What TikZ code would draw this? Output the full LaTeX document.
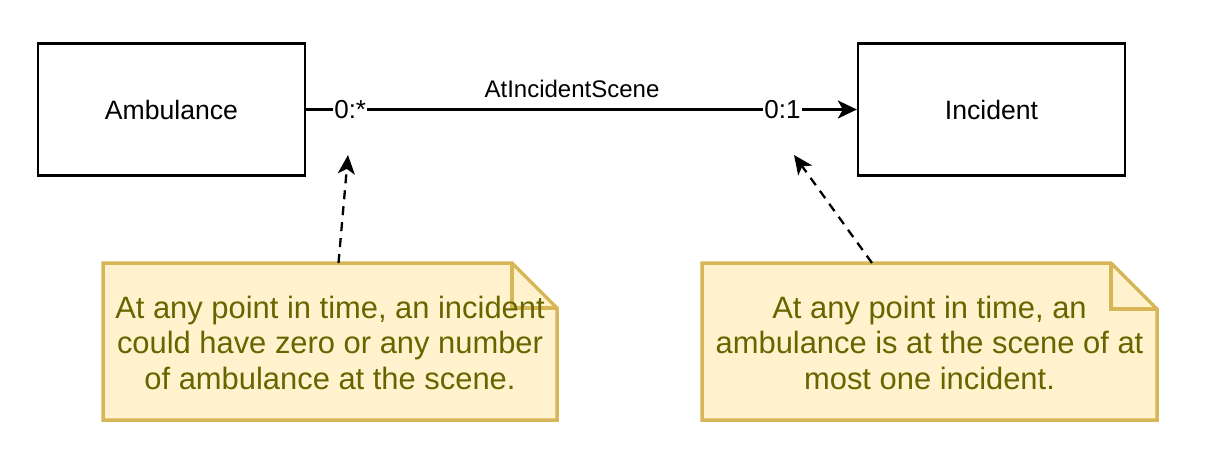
\documentclass[tikz,border=0pt]{standalone}
\usepackage{fontspec}
\setmainfont{Liberation Sans}
\usetikzlibrary{arrows.meta}
\definecolor{notefill}{HTML}{FFF2CC}
\definecolor{notedraw}{HTML}{D6B656}
\definecolor{notetext}{HTML}{666600}
\tikzset{
  classbox/.style={draw=black, line width=2.3pt, fill=white, minimum width=267pt, minimum height=132pt, inner sep=0pt, font=\fontsize{26.6}{30}\selectfont},
  notebox/.style={minimum width=454pt, minimum height=157pt, inner sep=0pt, align=center, text=notetext, font=\fontsize{30.9}{35.5}\selectfont},
  noteshape/.style={draw=notedraw, fill=notefill, line width=3.5pt, line join=miter},
  assoc/.style={line width=2.3pt, -{Stealth[length=19pt, width=18pt, inset=5pt]}},
  dashedarrow/.style={line width=2.3pt, dash pattern=on 9pt off 7pt, -{Stealth[length=19pt, width=17pt, inset=5pt]}},
  elabel/.style={fill=white, inner sep=1pt, font=\fontsize{24}{28}\selectfont},
  mlabel/.style={fill=white, inner sep=1pt, font=\fontsize{26}{30}\selectfont},
}
\begin{document}
\begin{tikzpicture}[x=1pt, y=-1pt]
\useasboundingbox (0,0) rectangle (1206,466);
% class boxes
\node[classbox] (amb) at (171.5,109.5) {Ambulance};
\node[classbox] (inc) at (991.5,109.5) {Incident};
% association
\draw[assoc] (amb.east) -- (inc.west)
  node[pos=0.08, mlabel] (m1) {0:*}
  node[pos=0.865, mlabel] (m2) {0:1};
\node[elabel] (lab) at (572,89) {AtIncidentScene};
% note 1
\draw[noteshape] (103,263) -- (512,263) -- (557,308) -- (557,420) -- (103,420) -- cycle;
\draw[noteshape, fill=none] (512,263) -- (512,308) -- (557,308);
\node[notebox] (n1) at (330,342.5) {At any point in time, an incident\\could have zero or any number\\of ambulance at the scene.};
% note 2
\draw[noteshape] (702,263) -- (1111,263) -- (1157,309) -- (1157,420) -- (702,420) -- cycle;
\draw[noteshape, fill=none] (1111,263) -- (1111,309) -- (1157,309);
\node[notebox] (n2) at (929.5,342.5) {At any point in time, an\\ambulance is at the scene of at\\most one incident.};
% dashed arrows
\coordinate (t1) at (348,155);
\coordinate (t2) at (794,155);
\coordinate (s1) at (338.5,263);
\coordinate (s2) at (872,263);
\draw[dashedarrow] (s1) -- (t1);
\draw[dashedarrow] (s2) -- (t2);
\end{tikzpicture}
\end{document}
